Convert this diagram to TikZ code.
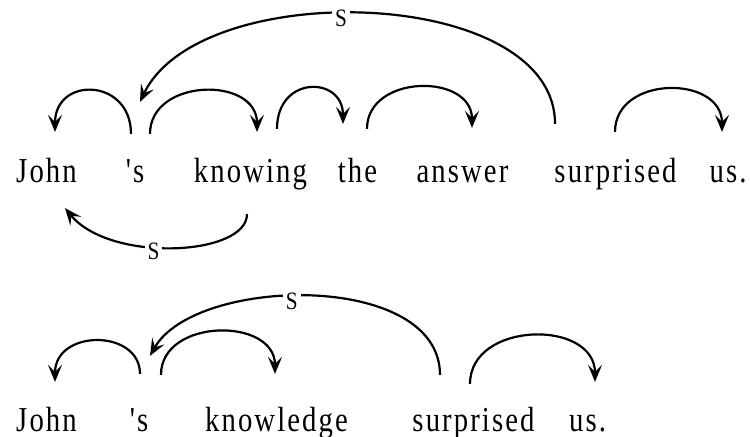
\documentclass[tikz,border=0pt]{standalone}
\usepackage{fontspec}
\setmainfont{Liberation Serif}
\newfontfamily\wordfont[LetterSpace=6.0, FakeStretch=0.82]{Liberation Serif}
\newfontfamily\relfont[FakeStretch=0.85]{Liberation Serif}
\usetikzlibrary{arrows.meta}
\usetikzlibrary{calc}

\begin{document}
\begin{tikzpicture}[x=0.5pt, y=0.5pt, >=Stealth, line width=1.1pt,
    word/.style={anchor=base, inner sep=0pt, text height=12pt, text depth=4pt,
        font=\wordfont\fontsize{17.5}{20}\selectfont},
    dep/.style={-{Stealth[length=8.5pt, width=7pt, inset=3.5pt]}},
    rel/.style={fill=white, inner sep=1.5pt, yshift=-2.5pt,
        font=\relfont\fontsize{12.5}{14}\selectfont}]

    \useasboundingbox (0,0) rectangle (750,437);

    % =========================================================================
    % SENTENCE A: John 's knowing the answer surprised us.
    % =========================================================================
    % --- Words ---
    \node[word] (john1)      at (46.5,254)  {John};
    \node[word] (pos1)       at (135,254)   {'s};
    \node[word] (knowing)    at (250.5,254) {knowing};
    \node[word] (the)        at (357.5,254) {the};
    \node[word] (answer)     at (462.5,254) {answer};
    \node[word] (surprised1) at (615.5,254) {surprised};
    \node[word] (us1)        at (728,254)   {us.};

    % --- Arcs above ---
    \draw[dep] ([shift={(-4,24)}]pos1.north) .. controls +(0,56) and +(0,56) .. ([shift={(8.5,26)}]john1.north);
    \draw[dep] ([shift={(15,24)}]pos1.north) .. controls +(0,56) and +(0,56) .. ([shift={(6.5,26)}]knowing.north);
    \draw[dep] ([shift={(26.5,29)}]knowing.north) .. controls +(0,54) and +(0,48) .. ([shift={(-14.5,34)}]the.north);
    \draw[dep] ([shift={(9.5,29)}]the.north) .. controls +(0,55) and +(0,55) .. ([shift={(9.5,30)}]answer.north);
    \draw[dep] ([shift={(-0.5,26)}]surprised1.north) .. controls +(0,57) and +(0,57) .. ([shift={(-6,26)}]us1.north);
    \draw[dep] ([shift={(-60.5,34)}]surprised1.north) .. controls +(0,138) and +(60,126) .. ([shift={(5,56)}]pos1.north)
        node[rel, pos=0.55] {S};

    % --- Arc below ---
    \draw[dep] ([shift={(-3.5,-22)}]knowing.south) .. controls +(0,-42) and +(45,-55) .. ([shift={(18.5,-16)}]john1.south)
        node[rel, pos=0.58] {S};

    % =========================================================================
    % SENTENCE B: John 's knowledge surprised us.
    % =========================================================================
    % --- Words ---
    \node[word] (john2)      at (46.5,5)  {John};
    \node[word] (pos2)       at (139,5)   {'s};
    \node[word] (knowledge)  at (276.5,5) {knowledge};
    \node[word] (surprised2) at (473.5,5) {surprised};
    \node[word] (us2)        at (587.5,5) {us.};

    % --- Arcs above ---
    \draw[dep] ([shift={(1,33)}]pos2.north) .. controls +(0,45) and +(0,53) .. ([shift={(8.5,25)}]john2.north);
    \draw[dep] ([shift={(22,32)}]pos2.north) .. controls +(0,57) and +(0,57) .. ([shift={(-1.5,33)}]knowledge.north);
    \draw[dep] ([shift={(-3.5,23)}]surprised2.north) .. controls +(0,63) and +(0,63) .. ([shift={(7.5,25)}]us2.north);
    \draw[dep] ([shift={(-33.5,32)}]surprised2.north) .. controls +(0,104) and +(45,80) .. ([shift={(11,51)}]pos2.north)
        node[rel, pos=0.55] {S};

\end{tikzpicture}
\end{document}
